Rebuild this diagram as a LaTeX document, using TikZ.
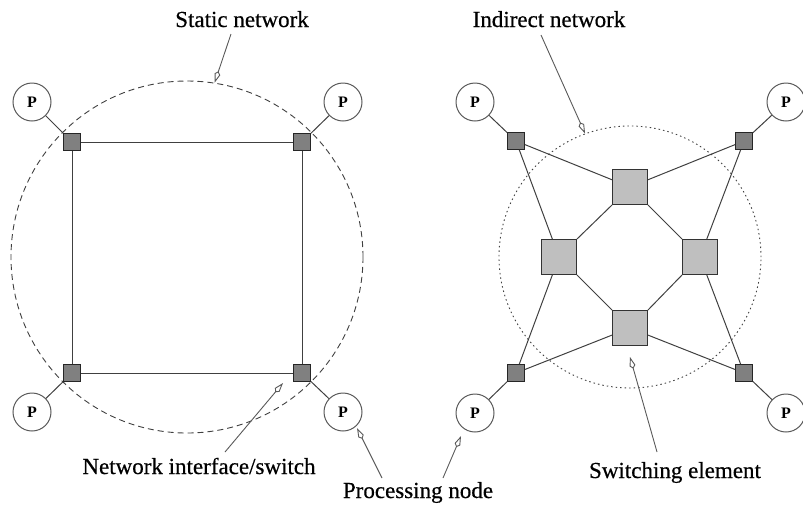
\documentclass[tikz,border=0pt]{standalone}
\usepackage{fontspec}
\setmainfont{Liberation Serif}
\newfontfamily\lblfont[FakeBold=0.5]{Liberation Serif}
\usetikzlibrary{arrows.meta}
\begin{document}
\begin{tikzpicture}[x=1pt,y=-1pt,
 proc/.style={circle,draw=black!65,line width=1pt,fill=white,minimum size=38pt,inner sep=0pt,font=\fontsize{16}{16}\selectfont\bfseries},
 iface/.style={rectangle,draw=black!85,line width=0.8pt,fill=black!50,minimum size=17pt,inner sep=0pt},
 swel/.style={rectangle,draw=black!80,line width=0.8pt,fill=black!25,minimum size=35pt,inner sep=0pt},
 link/.style={draw=black!75,line width=1pt},
 lbl/.style={font=\lblfont\fontsize{23}{23}\selectfont,inner sep=0pt,anchor=base},
 ptr/.style={draw=black!65,line width=0.9pt,-{Kite[open,length=12pt,width=6pt,fill=white]}},
 netring/.style={circle,draw=black!75,line width=0.9pt,inner sep=0pt},
]
\useasboundingbox (0,0) rectangle (803,507);

% ---------- left: static network ----------
\node[netring,dash pattern=on 6pt off 4pt,minimum size=352pt] (sring) at (187,257) {};
\node[iface] (a1) at (72,142) {};
\node[iface] (a2) at (302,142) {};
\node[iface] (a3) at (72,373) {};
\node[iface] (a4) at (302,373) {};
\node[proc] (p1) at (32,102) {P};
\node[proc] (p2) at (343,102) {P};
\node[proc] (p3) at (32,412) {P};
\node[proc] (p4) at (343,412) {P};
\draw[link] (a1) -- (a2);
\draw[link] (a2) -- (a4);
\draw[link] (a4) -- (a3);
\draw[link] (a3) -- (a1);
\draw[link] (p1) -- (a1);
\draw[link] (p2) -- (a2);
\draw[link] (p3) -- (a3);
\draw[link] (p4) -- (a4);

% ---------- right: indirect network ----------
\node[netring,dash pattern=on 1.5pt off 3pt,minimum size=262pt] (iring) at (630,257) {};
\node[iface] (b1) at (516,141) {};
\node[iface] (b2) at (744,141) {};
\node[iface] (b3) at (516,373) {};
\node[iface] (b4) at (744,373) {};
\node[proc] (q1) at (475,102) {P};
\node[proc] (q2) at (786,102) {P};
\node[proc] (q3) at (475,413) {P};
\node[proc] (q4) at (786,413) {P};
\node[swel] (sT) at (630,187) {};
\node[swel] (sL) at (559,257) {};
\node[swel] (sR) at (700,257) {};
\node[swel] (sB) at (630,328) {};
\draw[link] (q1) -- (b1);
\draw[link] (q2) -- (b2);
\draw[link] (q3) -- (b3);
\draw[link] (q4) -- (b4);
\draw[link] (b1) -- (sT);
\draw[link] (b1) -- (sL);
\draw[link] (b2) -- (sT);
\draw[link] (b2) -- (sR);
\draw[link] (b3) -- (sB);
\draw[link] (b3) -- (sL);
\draw[link] (b4) -- (sB);
\draw[link] (b4) -- (sR);
\draw[link] (sT.south west) -- (sL.north east);
\draw[link] (sT.south east) -- (sR.north west);
\draw[link] (sB.north west) -- (sL.south east);
\draw[link] (sB.north east) -- (sR.south west);

% ---------- labels ----------
\node[lbl] (lstatic) at (242,27) {Static network};
\node[lbl] (lindirect) at (549,27) {Indirect network};
\node[lbl] (lnis) at (199,474) {Network interface/switch};
\node[lbl] (lproc) at (418,498) {Processing node};
\node[lbl] (lswitch) at (675,478) {Switching element};

\coordinate (s1) at (231,34);
\coordinate (s2) at (541,35);
\coordinate (s3) at (225,452);
\coordinate (s4) at (382,478);
\coordinate (s5) at (443,478);
\coordinate (s6) at (657,452);
\coordinate (t3) at (283,383);
\coordinate (t4) at (357,428);
\coordinate (t5) at (461,436);
\coordinate (t6) at (630,357);

\draw[ptr] (s1) -- (sring.81);
\draw[ptr] (s2) -- (iring.110);
\draw[ptr] (s3) -- (t3);
\draw[ptr] (s4) -- (t4);
\draw[ptr] (s5) -- (t5);
\draw[ptr] (s6) -- (t6);
\end{tikzpicture}
\end{document}
